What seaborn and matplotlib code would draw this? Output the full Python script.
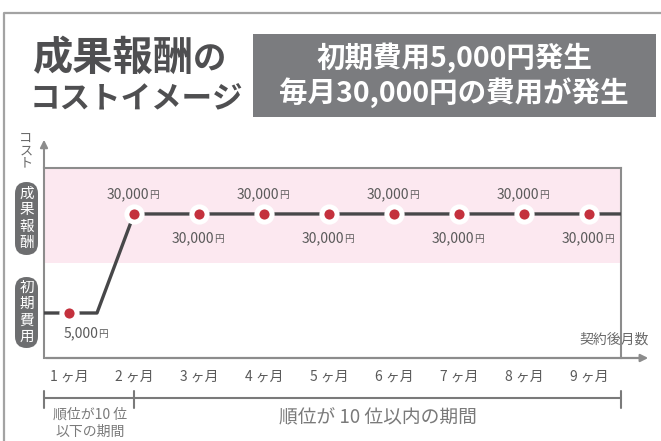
"""
成果報酬のコストイメージ
Reproduce the cost image chart (initial fee + monthly fee) with seaborn.
Output: out.png
"""

# Constants
OUT_PATH = 'out.png'
W, H = 661, 441

import matplotlib
matplotlib.use('Agg')
import matplotlib.pyplot as plt
from matplotlib.patches import FancyBboxPatch, Rectangle
import seaborn as sns

# ..data
months = [1, 2, 3, 4, 5, 6, 7, 8, 9]
costs = [5000, 30000, 30000, 30000, 30000, 30000, 30000, 30000, 30000]
cost_labels = ['5,000', '30,000', '30,000', '30,000', '30,000',
               '30,000', '30,000', '30,000', '30,000']
month_labels = ['1 ヶ月', '2 ヶ月', '3 ヶ月', '4 ヶ月', '5 ヶ月',
                '6 ヶ月', '7 ヶ月', '8 ヶ月', '9 ヶ月']

# cost path drawn as a line (flat until ramp, then monthly fee)
path_months = [0.615, 1.43, 2, 9.49]
path_costs = [5000, 5000, 30000, 30000]

# bands
reward_band = (17600, 41600)

# ..colors
DARK = '#4f4f51'
GRAY = '#7b7c7f'
AXIS = '#8c8c8c'
TEXT = '#5a5a5a'
RED = '#c4313d'
PINK = '#fce8f0'

sns.set_theme(style='white')
plt.rcParams['font.family'] = ['Noto Sans CJK JP', 'DejaVu Sans']

fig = plt.figure(figsize=(W / 100, H / 100), dpi=100)
fig.patch.set_facecolor('white')

# ..overlay in pixel coordinates for decorations
ov = fig.add_axes([0, 0, 1, 1], zorder=0)
ov.set_xlim(0, W)
ov.set_ylim(H, 0)
ov.axis('off')


def vertical_text(x, y_center, chars, step, **kw):
    """stack characters one under another"""
    y0 = y_center - step * (len(chars) - 1) / 2
    for k, ch in enumerate(chars):
        ov.text(x, y0 + k * step, ch, ha='center', va='center', **kw)


# outer frame
ov.plot([4, 4, W], [H, 13, 13], color='#a3a3a3', lw=1.6, solid_capstyle='butt')

# title
ov.text(33, 70, '成果報酬', fontsize=29, fontweight='bold', color=DARK,
        ha='left', va='baseline')
ov.text(193, 70, 'の', fontsize=24, fontweight='bold', color=DARK,
        ha='left', va='baseline')
ov.text(30, 99, 'コストイメージ', fontsize=22, fontweight='bold', color=DARK,
        ha='left', va='center')

# summary box
ov.add_patch(Rectangle((253, 34), 403, 83, color=GRAY, lw=0))
ov.text(454, 58, '初期費用5,000円発生', fontsize=20.5, fontweight='bold',
        color='white', ha='center', va='center')
ov.text(454, 93, '毎月30,000円の費用が発生', fontsize=20.5, fontweight='bold',
        color='white', ha='center', va='center')

# y axis caption + badges
vertical_text(26, 151, 'コスト', 12.5, fontsize=9.5, color='#6a6a6a')
for (top, bottom), label in [((182, 255), '成果報酬'), ((277, 348), '初期費用')]:
    ov.add_patch(FancyBboxPatch((15, top), 23, bottom - top,
                                boxstyle='round,pad=0,rounding_size=11.5',
                                color='#6d6e70', lw=0))
    vertical_text(26.5, (top + bottom) / 2, label, 16.5, fontsize=10.5, color='white')

# axis arrows
ov.annotate('', xy=(44, 137), xytext=(44, 170),
            arrowprops=dict(arrowstyle='-|>', color=AXIS, lw=1.5, mutation_scale=11))
ov.annotate('', xy=(651, 358), xytext=(43, 358),
            arrowprops=dict(arrowstyle='-|>', color=AXIS, lw=1.6, mutation_scale=11))
ov.text(614, 340, '契約後月数', fontsize=10, color='#6a6a6a', ha='center', va='center')

# period bracket
ov.plot([44, 621], [398, 398], color='#7a7a7a', lw=1.5)
for bx in [44, 134, 621]:
    ov.plot([bx, bx], [391, 408], color='#7a7a7a', lw=1.5)
ov.text(90, 415, '順位が10 位', fontsize=10, color='#7a7a7a', ha='center', va='center')
ov.text(90, 432, '以下の期間', fontsize=10, color='#7a7a7a', ha='center', va='center')
ov.text(378, 418, '順位が 10 位以内の期間', fontsize=13.5, color='#7a7a7a',
        ha='center', va='center')

# ..main chart
ax = fig.add_axes([44 / W, 1 - 358 / H, 577 / W, 190 / H], zorder=2)
ax.set_facecolor('none')
ax.axhspan(*reward_band, color=PINK, lw=0, zorder=0)

sns.lineplot(x=path_months, y=path_costs, color='#474749', lw=2.4, ax=ax, zorder=3)
sns.scatterplot(x=months, y=costs, s=120, color=RED, edgecolor='white',
                linewidth=3.6, zorder=5, ax=ax)

for i, (m, c, lab) in enumerate(zip(months, costs, cost_labels)):
    if i == 0:
        dx, dy = 21, -14.5
    elif i % 2 == 1:
        dx, dy = 10.8, 14.5
    else:
        dx, dy = 10.8, -17.5
    ax.annotate(lab, (m, c), xytext=(dx, dy), textcoords='offset points',
                ha='right', va='center', fontsize=10, color=TEXT)
    ax.annotate('円', (m, c), xytext=(dx, dy - 0.5), textcoords='offset points',
                ha='left', va='center', fontsize=7, color=TEXT)

ax.set_xlim(path_months[0], path_months[-1])
ax.set_ylim(-6360, reward_band[1])
ax.set_xticks(months, month_labels)
ax.set_yticks([])
ax.tick_params(axis='x', length=0, pad=8, labelsize=10, labelcolor=TEXT)
ax.set_xlabel('')
ax.set_ylabel('')
for side in ['left', 'top', 'right']:
    ax.spines[side].set_color(AXIS)
    ax.spines[side].set_linewidth(1.5)
ax.spines['bottom'].set_visible(False)

plt.savefig(OUT_PATH, dpi=100)
